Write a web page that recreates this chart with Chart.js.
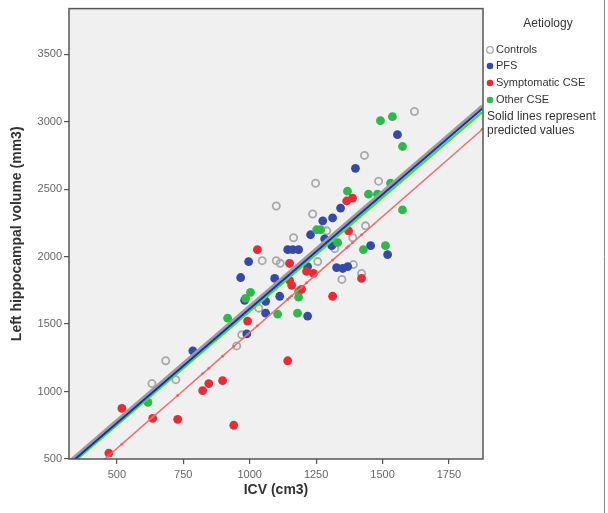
<!DOCTYPE html>
<html><head><meta charset="utf-8">
<script src="https://cdn.jsdelivr.net/npm/chart.js@4.4.0/dist/chart.umd.min.js"></script>
<style>html,body{margin:0;padding:0;background:#fff;}</style>
</head><body>
<canvas id="c" width="608" height="513"></canvas>
<script>
// ---- data ----
const xTicks = [500, 750, 1000, 1250, 1500, 1750];
const yTicks = [500, 1000, 1500, 2000, 2500, 3000, 3500];

const controlsICV = [1620,1432,1485,1248,1100,1237,1436,1290,1388,1165,1320,1047,1100,1115,1390,1421,1347,1034,970,951,684,632,722,1256];
const controlsVol = [3075,2750,2559,2544,2375,2316,2228,2191,2140,2140,2059,1970,1970,1950,1941,1875,1831,1618,1420,1338,1228,1059,1088,1963];

const pfsICV = [1556,1398,1342,1312,1275,1229,1282,1309,1455,1519,1143,1162,1184,996,966,1094,1218,1327,1350,1369,981,1060,1113,1060,1218,989,786];
const pfsVol = [2904,2654,2360,2287,2265,2162,2132,2081,2081,2015,2051,2051,2051,1963,1845,1838,1926,1919,1912,1926,1676,1669,1706,1581,1559,1427,1302];

const sympICV = [1365,1387,1372,1029,1150,1150,1158,1195,1214,1240,1421,1312,992,1143,898,846,823,729,940,519,635,470];
const sympVol = [2412,2434,2191,2051,1949,1824,1787,1757,1890,1875,1838,1706,1522,1228,1081,1059,1007,794,750,875,801,544];

const otherICV = [1492,1537,1575,1530,1447,1481,1368,1575,1252,1267,1331,1428,1511,1003,985,1184,1184,1180,1105,917,617];
const otherVol = [3007,3037,2816,2544,2463,2463,2485,2346,2199,2199,2103,2051,2081,1735,1691,1743,1699,1581,1574,1544,919];

// predicted-value lines
const fitICV = [320, 1875];
const controlsFit = [481, 3117];
const pfsFit = [461, 3095];
const otherFit = [449, 3071];
const sympFitICV = [320,470,519,635,729,823,846,898,940,992,1029,1143,1150,1158,1195,1214,1240,1312,1365,1372,1387,1421,1875];
const sympFit = [268,526,610,810,971,1133,1172,1262,1334,1424,1487,1683,1695,1709,1773,1805,1850,1974,2065,2077,2103,2161,2942];

const legendTitle = 'Aetiology';
const legendNames = ['Controls', 'PFS', 'Symptomatic CSE', 'Other CSE'];
const noteLines = ['Solid lines represent', 'predicted values'];

const COL = {ctrl:'#a9a9a9', pfs:'#3549a8', symp:'#ec2a36', other:'#2fb84c'};
const FONT = "'Liberation Sans', Arial, sans-serif";

const pts = (xs, ys) => xs.map((x, i) => ({x, y: ys[i]}));

const bgPlugin = {
  id: 'bg',
  beforeDraw(chart) {
    const {ctx, chartArea: a} = chart;
    ctx.save();
    ctx.fillStyle = '#ffffff';
    ctx.fillRect(0, 0, chart.width, chart.height);
    ctx.fillStyle = '#f0f0f0';
    ctx.fillRect(a.left, a.top, a.right - a.left, a.bottom - a.top);
    ctx.restore();
  },
  afterDraw(chart) {
    const {ctx, chartArea: a} = chart;
    ctx.save();
    ctx.strokeStyle = '#555555';
    ctx.lineWidth = 1.5;
    ctx.strokeRect(a.left, a.top, a.right - a.left, a.bottom - a.top);
    ctx.strokeStyle = '#8a8a8a';
    ctx.lineWidth = 1;
    ctx.beginPath(); ctx.moveTo(604.5, 0); ctx.lineTo(604.5, 513); ctx.stroke();
    // legend
    ctx.fillStyle = '#333333';
    ctx.font = '12px ' + FONT;
    ctx.textAlign = 'center'; ctx.textBaseline = 'middle';
    ctx.fillText(legendTitle, 548, 24);
    const cols = [COL.ctrl, COL.pfs, COL.symp, COL.other];
    const ys = [50, 66, 83, 100];
    ctx.textAlign = 'left';
    ctx.font = '11px ' + FONT;
    legendNames.forEach((n, i) => {
      ctx.beginPath();
      ctx.arc(490, ys[i], 3.3, 0, Math.PI * 2);
      if (i === 0) { ctx.strokeStyle = cols[0]; ctx.lineWidth = 1.3; ctx.stroke(); }
      else { ctx.fillStyle = cols[i]; ctx.fill(); }
      ctx.fillStyle = '#333333';
      ctx.fillText(n, 496, ys[i]);
    });
    ctx.font = '12px ' + FONT;
    ctx.fillText(noteLines[0], 487, 117);
    ctx.fillText(noteLines[1], 487, 131);
    ctx.restore();
  }
};

new Chart(document.getElementById('c'), {
  type: 'scatter',
  data: {
    datasets: [
      {label: 'PFS fit', data: pts(fitICV, pfsFit), showLine: true, borderColor: '#1a2db8', borderWidth: 2, pointRadius: 0},
      {label: 'Other fit', data: pts(fitICV, otherFit), showLine: true, borderColor: '#3fe03f', borderWidth: 2.5, pointRadius: 0},
      {label: 'Controls fit', data: pts(fitICV, controlsFit), showLine: true, borderColor: '#9c9c9c', borderWidth: 3, pointRadius: 0},
      {label: 'Symptomatic fit', data: pts(sympFitICV, sympFit), showLine: true, borderColor: '#ef7070', borderWidth: 1.5,
        pointRadius: 1.4, pointBackgroundColor: '#ef6060', pointBorderWidth: 0},
      {label: legendNames[2], data: pts(sympICV, sympVol), pointRadius: 4.4, pointBackgroundColor: COL.symp, pointBorderWidth: 0},
      {label: legendNames[3], data: pts(otherICV, otherVol), pointRadius: 4.4, pointBackgroundColor: COL.other, pointBorderWidth: 0},
      {label: legendNames[1], data: pts(pfsICV, pfsVol), pointRadius: 4.4, pointBackgroundColor: COL.pfs, pointBorderWidth: 0},
      {label: legendNames[0], data: pts(controlsICV, controlsVol), pointRadius: 3.6, pointBackgroundColor: 'rgba(0,0,0,0)', pointBorderColor: COL.ctrl, pointBorderWidth: 1.8}
    ]
  },
  options: {
    responsive: false,
    animation: false,
    devicePixelRatio: 1,
    layout: {padding: {left: 0, top: 5, right: 125, bottom: 0}},
    plugins: {legend: {display: false}, tooltip: {enabled: false}},
    scales: {
      x: {
        type: 'linear', min: 320, max: 1878,
        afterBuildTicks: s => { s.ticks = xTicks.map(v => ({value: v})); },
        afterFit: s => { s.height = 54; },
        grid: {drawOnChartArea: false, drawTicks: true, tickLength: 5, color: '#555555', lineWidth: 1.2},
        border: {display: false},
        ticks: {color: '#666666', font: {family: FONT, size: 11}, padding: 4, maxRotation: 0, callback: v => String(v)},
        title: {display: true, text: 'ICV (cm3)', color: '#333333', font: {family: FONT, size: 14, weight: 'bold'}, padding: {top: 0, bottom: 14}}
      },
      y: {
        type: 'linear', min: 500, max: 3838,
        afterBuildTicks: s => { s.ticks = yTicks.map(v => ({value: v})); },
        afterFit: s => { s.width = 69; },
        grid: {drawOnChartArea: false, drawTicks: true, tickLength: 5, color: '#555555', lineWidth: 1.2},
        border: {display: false},
        ticks: {color: '#666666', font: {family: FONT, size: 11}, padding: 2, callback: v => String(v)},
        title: {display: true, text: 'Left hippocampal volume (mm3)', color: '#333333', font: {family: FONT, size: 14, weight: 'bold'}, padding: {top: 9, bottom: 0}}
      }
    }
  },
  plugins: [bgPlugin]
});
</script>
</body></html>
